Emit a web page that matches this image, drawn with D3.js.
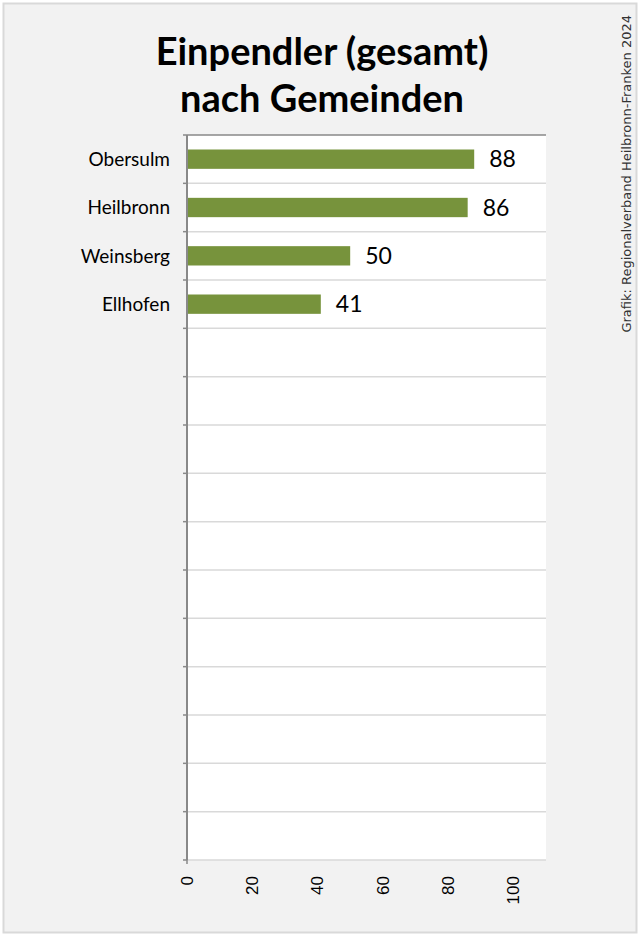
<!DOCTYPE html>
<html>
<head>
<meta charset="utf-8">
<script src="https://cdn.jsdelivr.net/npm/d3@7"></script>
<style>
  body { margin: 0; background: #fff; }
</style>
</head>
<body>
<svg id="chart" width="640" height="936"></svg>
<script>
const categories = ['Obersulm', 'Heilbronn', 'Weinsberg', 'Ellhofen', '', '', '', '', '', '', '', '', '', '', '']
const values = [88, 86, 50, 41, null, null, null, null, null, null, null, null, null, null, null]
const xTicks = [0, 20, 40, 60, 80, 100]
const titleLines = ['Einpendler (gesamt)', 'nach Gemeinden']
const source = 'Grafik: Regionalverband Heilbronn-Franken 2024'

const svg = d3.select('#chart')
const width = 640
const height = 936
const plot = { left: 187, right: 546, top: 135, bottom: 860 }
const barColor = '#77933c'
const gridColor = '#d9d9d9'
const axisColor = '#898989'

// hintergrund + rahmen
svg.append('rect')
  .attr('x', 3.5).attr('y', 3.5)
  .attr('width', width - 7).attr('height', height - 7)
  .attr('fill', '#f2f2f2')
  .attr('stroke', '#d9d9d9')
  .attr('stroke-width', 2)

svg.append('rect')
  .attr('x', plot.left).attr('y', plot.top)
  .attr('width', plot.right - plot.left).attr('height', plot.bottom - plot.top)
  .attr('fill', '#fff')

const idx = categories.map((d, i) => i)

const x = d3.scaleLinear()
  .domain([0, 110])
  .range([plot.left, plot.right])

const y = d3.scaleBand()
  .domain(idx)
  .range([plot.top, plot.bottom])
  .paddingInner(0.6)
  .paddingOuter(0.3)

// gitterlinien an den kategoriegrenzen
const bounds = d3.range(categories.length + 1).map(i => plot.top + i * (plot.bottom - plot.top) / categories.length)
svg.append('g')
  .selectAll('line')
  .data(bounds.slice(1))
  .enter()
  .append('line')
    .attr('x1', plot.left).attr('x2', plot.right)
    .attr('y1', d => d).attr('y2', d => d)
    .attr('stroke', gridColor)
    .attr('stroke-width', 1.5)

// obere linie
svg.append('line')
  .attr('x1', plot.left).attr('x2', plot.right)
  .attr('y1', plot.top).attr('y2', plot.top)
  .attr('stroke', axisColor)
  .attr('stroke-width', 1.5)

// balken
svg.append('g')
  .selectAll('rect')
  .data(idx.filter(i => values[i] != null))
  .enter()
  .append('rect')
    .attr('x', x(0))
    .attr('y', i => y(i))
    .attr('width', i => x(values[i]) - x(0))
    .attr('height', y.bandwidth())
    .attr('fill', barColor)

// werte
svg.append('g')
  .selectAll('text')
  .data(idx.filter(i => values[i] != null))
  .enter()
  .append('text')
    .attr('x', i => x(values[i]) + 15)
    .attr('y', i => y(i) + y.bandwidth() / 2)
    .attr('dy', '0.36em')
    .style('font-family', 'Lato, Carlito, sans-serif')
    .style('font-size', '23px')
    .style('fill', '#000')
    .text(i => values[i])

// y-achse
const yAxis = svg.append('g')
svg.append('line')
  .attr('x1', plot.left).attr('x2', plot.left)
  .attr('y1', plot.top).attr('y2', plot.bottom)
  .attr('stroke', axisColor)
  .attr('stroke-width', 2)
yAxis.selectAll('line')
  .data(bounds)
  .enter()
  .append('line')
    .attr('x1', plot.left - 4).attr('x2', plot.left)
    .attr('y1', d => d).attr('y2', d => d)
    .attr('stroke', axisColor)
    .attr('stroke-width', 1.5)
yAxis.selectAll('text')
  .data(idx)
  .enter()
  .append('text')
    .attr('x', plot.left - 17)
    .attr('y', i => y(i) + y.bandwidth() / 2)
    .attr('dy', '0.36em')
    .attr('text-anchor', 'end')
    .style('font-family', 'Lato, Carlito, sans-serif')
    .style('font-size', '19px')
    .text(i => categories[i])

// tick bei 0 unten
svg.append('line')
  .attr('x1', plot.left).attr('x2', plot.left)
  .attr('y1', plot.bottom).attr('y2', plot.bottom + 4)
  .attr('stroke', axisColor)
  .attr('stroke-width', 1.5)

// x-achse beschriftung (gedreht)
svg.append('g')
  .selectAll('text')
  .data(xTicks)
  .enter()
  .append('text')
    .attr('transform', d => `translate(${x(d)}, 876) rotate(-90)`)
    .attr('text-anchor', 'end')
    .attr('dy', '0.35em')
    .style('font-family', 'Liberation Sans, Arial, sans-serif')
    .style('font-size', '17px')
    .text(d => d)

// titel
svg.append('text')
  .attr('x', 322)
  .attr('text-anchor', 'middle')
  .style('font-family', 'Lato, Carlito, sans-serif')
  .style('font-weight', 'bold')
  .style('font-size', '38px')
  .selectAll('tspan')
  .data(titleLines)
  .enter()
  .append('tspan')
    .attr('x', 322)
    .attr('y', (d, i) => 65 + i * 47)
    .text(d => d)

// quelle
svg.append('text')
  .attr('transform', 'translate(626, 15) rotate(-90)')
  .attr('text-anchor', 'end')
  .attr('dy', '0.35em')
  .style('font-family', 'DejaVu Sans, sans-serif')
  .style('font-size', '13px')
  .style('fill', '#333')
  .text(source)
</script>
</body>
</html>
